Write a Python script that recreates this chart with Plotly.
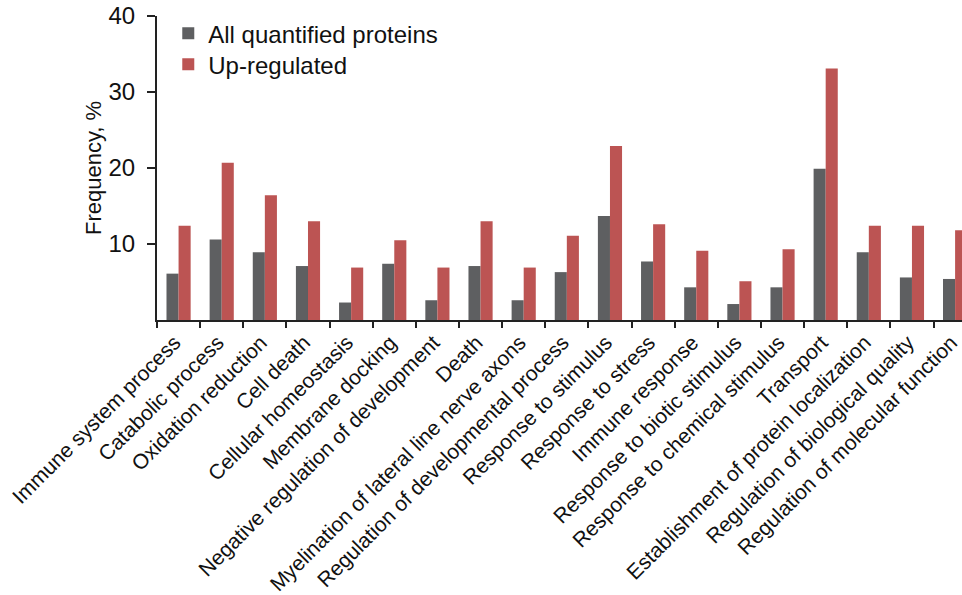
import plotly.graph_objects as go

categories = [
    "Immune system process",
    "Catabolic process",
    "Oxidation reduction",
    "Cell death",
    "Cellular homeostasis",
    "Membrane docking",
    "Negative regulation of development",
    "Death",
    "Myelination of lateral line nerve axons",
    "Regulation of developmental process",
    "Response to stimulus",
    "Response to stress",
    "Immune response",
    "Response to biotic stimulus",
    "Response to chemical stimulus",
    "Transport",
    "Establishment of protein localization",
    "Regulation of biological quality",
    "Regulation of molecular function",
]

all_quantified = [6.1, 10.6, 8.9, 7.1, 2.3, 7.4, 2.6, 7.1, 2.6, 6.3,
                  13.7, 7.7, 4.3, 2.1, 4.3, 19.9, 8.9, 5.6, 5.4]
up_regulated = [12.4, 20.7, 16.4, 13.0, 6.9, 10.5, 6.9, 13.0, 6.9, 11.1,
                22.9, 12.6, 9.1, 5.1, 9.3, 33.1, 12.4, 12.4, 11.8]

y_ticks = [10, 20, 30, 40]

GRAY = "#5e5f61"
RED = "#bc5453"
FONT = "Liberation Sans, Arial, sans-serif"
TEXT = "#111111"

fig = go.Figure()
fig.add_trace(go.Bar(x=categories, y=all_quantified, name="All quantified proteins",
                     marker=dict(color=GRAY, line=dict(width=0)), legend="legend"))
fig.add_trace(go.Bar(x=categories, y=up_regulated, name="Up-regulated",
                     marker=dict(color=RED, line=dict(width=0)), legend="legend2"))

legend_style = dict(xanchor="left", yanchor="top",
                    font=dict(size=24, family=FONT, color=TEXT),
                    bgcolor="rgba(0,0,0,0)", itemwidth=30)

fig.update_layout(
    width=962, height=595,
    margin=dict(l=157, r=0, t=16, b=275),
    paper_bgcolor="white", plot_bgcolor="white",
    barmode="group", bargap=0.44, bargroupgap=0,
    font=dict(family=FONT, color=TEXT),
    showlegend=True,
    legend=dict(x=0.014, y=1.016, **legend_style),
    legend2=dict(x=0.014, y=0.914, **legend_style),
)

fig.update_xaxes(
    type="category", range=[-0.5, 18.16], automargin=False,
    showline=True, linecolor="#222222", linewidth=2,
    ticks="outside", tickson="boundaries", ticklen=6, tickwidth=2, tickcolor="#222222",
    tickangle=-45, tickfont=dict(size=21, family=FONT, color=TEXT),
    ticklabelshift=-4,
    showgrid=False, zeroline=False,
)
fig.update_yaxes(
    range=[0, 40], tickvals=y_ticks, automargin=False,
    showline=True, linecolor="#222222", linewidth=2,
    ticks="outside", ticklen=8, tickwidth=2, tickcolor="#222222",
    tickfont=dict(size=24, family=FONT, color=TEXT),
    ticklabelstandoff=7,
    title=dict(text="Frequency, %", font=dict(size=22, family=FONT, color=TEXT), standoff=1),
    showgrid=False, zeroline=False,
)

fig.write_html("out.html")
